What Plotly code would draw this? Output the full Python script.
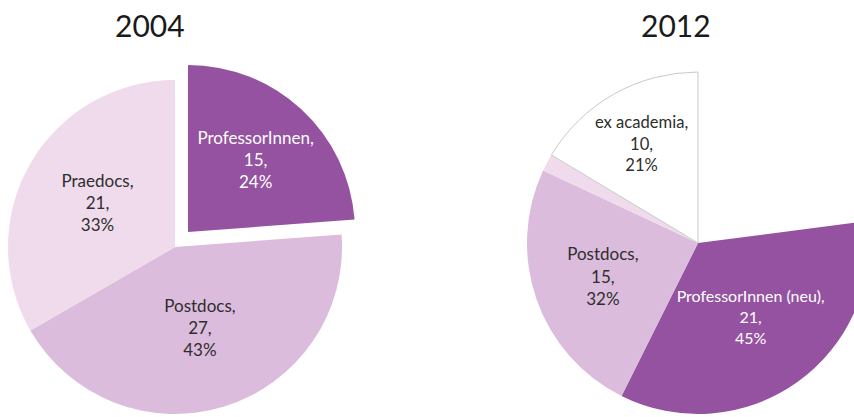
import plotly.graph_objects as go

# Canvas (a little wider than the window so the 2012 pie runs off the right edge)
W, H = 880, 417

# 2004 staff composition
cats_2004 = ["ProfessorInnen", "Postdocs", "Praedocs"]
vals_2004 = [15, 27, 21]

# 2012: where the same people ended up
cats_2012 = ["ProfessorInnen (neu)", "Postdocs", "Praedocs", "ex academia"]
vals_2012 = [21, 15, 1, 10]
# empty wedge at the top right of the 2012 pie (not part of the breakdown)
gap_label = "ProfessorInnen 2004"
gap_2012 = 14

titles = ["2004", "2012"]

COLORS = {
    "ProfessorInnen": "#9452a0",
    "ProfessorInnen (neu)": "#9452a0",
    "Postdocs": "#dcbcdc",
    "Praedocs": "#efdbec",
    "ex academia": "#ffffff",
}
CLEAR = "rgba(0,0,0,0)"
DARK = "#2e2e2e"
FONT = "Lato"
FS = 17
LABEL = "%{label},<br>%{value},<br>"


def domain(cx, cy, r):
    """Pie domain (paper units) for a pie centred at pixel (cx, cy) with radius r."""
    return dict(x=[(cx - r) / W, (cx + r) / W],
                y=[1 - (cy + r) / H, 1 - (cy - r) / H])


# pie geometry in pixels
R04, C04 = 167, (175, 247)
EXPLODE = (13, -15)          # offset of the pulled-out ProfessorInnen wedge
R12, C12 = 171, (698, 243)

fig = go.Figure()

# 2004: the two wedges that stay in place
fig.add_trace(go.Pie(
    labels=cats_2004, values=vals_2004,
    sort=False, direction="clockwise", rotation=0,
    domain=domain(C04[0], C04[1], R04),
    marker=dict(colors=[CLEAR if c == "ProfessorInnen" else COLORS[c] for c in cats_2004],
                line=dict(width=0)),
    texttemplate=["" if c == "ProfessorInnen" else LABEL + "%{percent:.0%}" for c in cats_2004],
    textposition="inside", insidetextorientation="horizontal",
    textfont=dict(family=FONT, size=FS, color=DARK),
    hoverinfo="skip", showlegend=False,
))

# 2004: the pulled-out ProfessorInnen wedge
fig.add_trace(go.Pie(
    labels=cats_2004, values=vals_2004,
    sort=False, direction="clockwise", rotation=0,
    domain=domain(C04[0] + EXPLODE[0], C04[1] + EXPLODE[1], R04),
    marker=dict(colors=[COLORS[c] if c == "ProfessorInnen" else CLEAR for c in cats_2004],
                line=dict(width=0)),
    texttemplate=[LABEL + "%{percent:.0%}" if c == "ProfessorInnen" else "" for c in cats_2004],
    textposition="inside", insidetextorientation="horizontal",
    textfont=dict(family=FONT, size=FS, color="white"),
    hoverinfo="skip", showlegend=False,
))

# 2012: shares computed over the people shown (gap excluded)
total_12 = sum(vals_2012)
pct_12 = [f"{round(v / total_12 * 100)}%" for v in vals_2012]
labels_12 = [gap_label] + cats_2012
values_12 = [gap_2012] + vals_2012
fig.add_trace(go.Pie(
    labels=labels_12, values=values_12,
    customdata=[""] + pct_12,
    sort=False, direction="clockwise", rotation=0,
    domain=domain(C12[0], C12[1], R12),
    marker=dict(
        colors=[CLEAR] + [COLORS[c] for c in cats_2012],
        line=dict(color=[CLEAR] + ["#c9c9c9" if c == "ex academia" else CLEAR for c in cats_2012],
                  width=[0] + [1 if c == "ex academia" else 0 for c in cats_2012]),
    ),
    texttemplate=[""] + ["" if c == "Praedocs" else LABEL + "%{customdata}" for c in cats_2012],
    textposition="inside", insidetextorientation="horizontal",
    textfont=dict(family=FONT, size=FS,
                  color=["white"] + ["white" if c.startswith("Professor") else DARK for c in cats_2012]),
    hoverinfo="skip", showlegend=False,
))

for title, x in zip(titles, [150, 676]):
    fig.add_annotation(text=title, x=x / W, y=1 - 25 / H, xref="paper", yref="paper",
                       xanchor="center", yanchor="middle", showarrow=False,
                       font=dict(family=FONT, size=30, color="#1a1a1a"))

fig.update_layout(
    width=W, height=H,
    margin=dict(l=0, r=0, t=0, b=0),
    paper_bgcolor="white", plot_bgcolor="white",
)

fig.write_html(
    "out.html",
    config={"displayModeBar": False},
    post_script="document.documentElement.style.overflow='hidden';"
                "document.body.style.overflow='hidden';",
)
